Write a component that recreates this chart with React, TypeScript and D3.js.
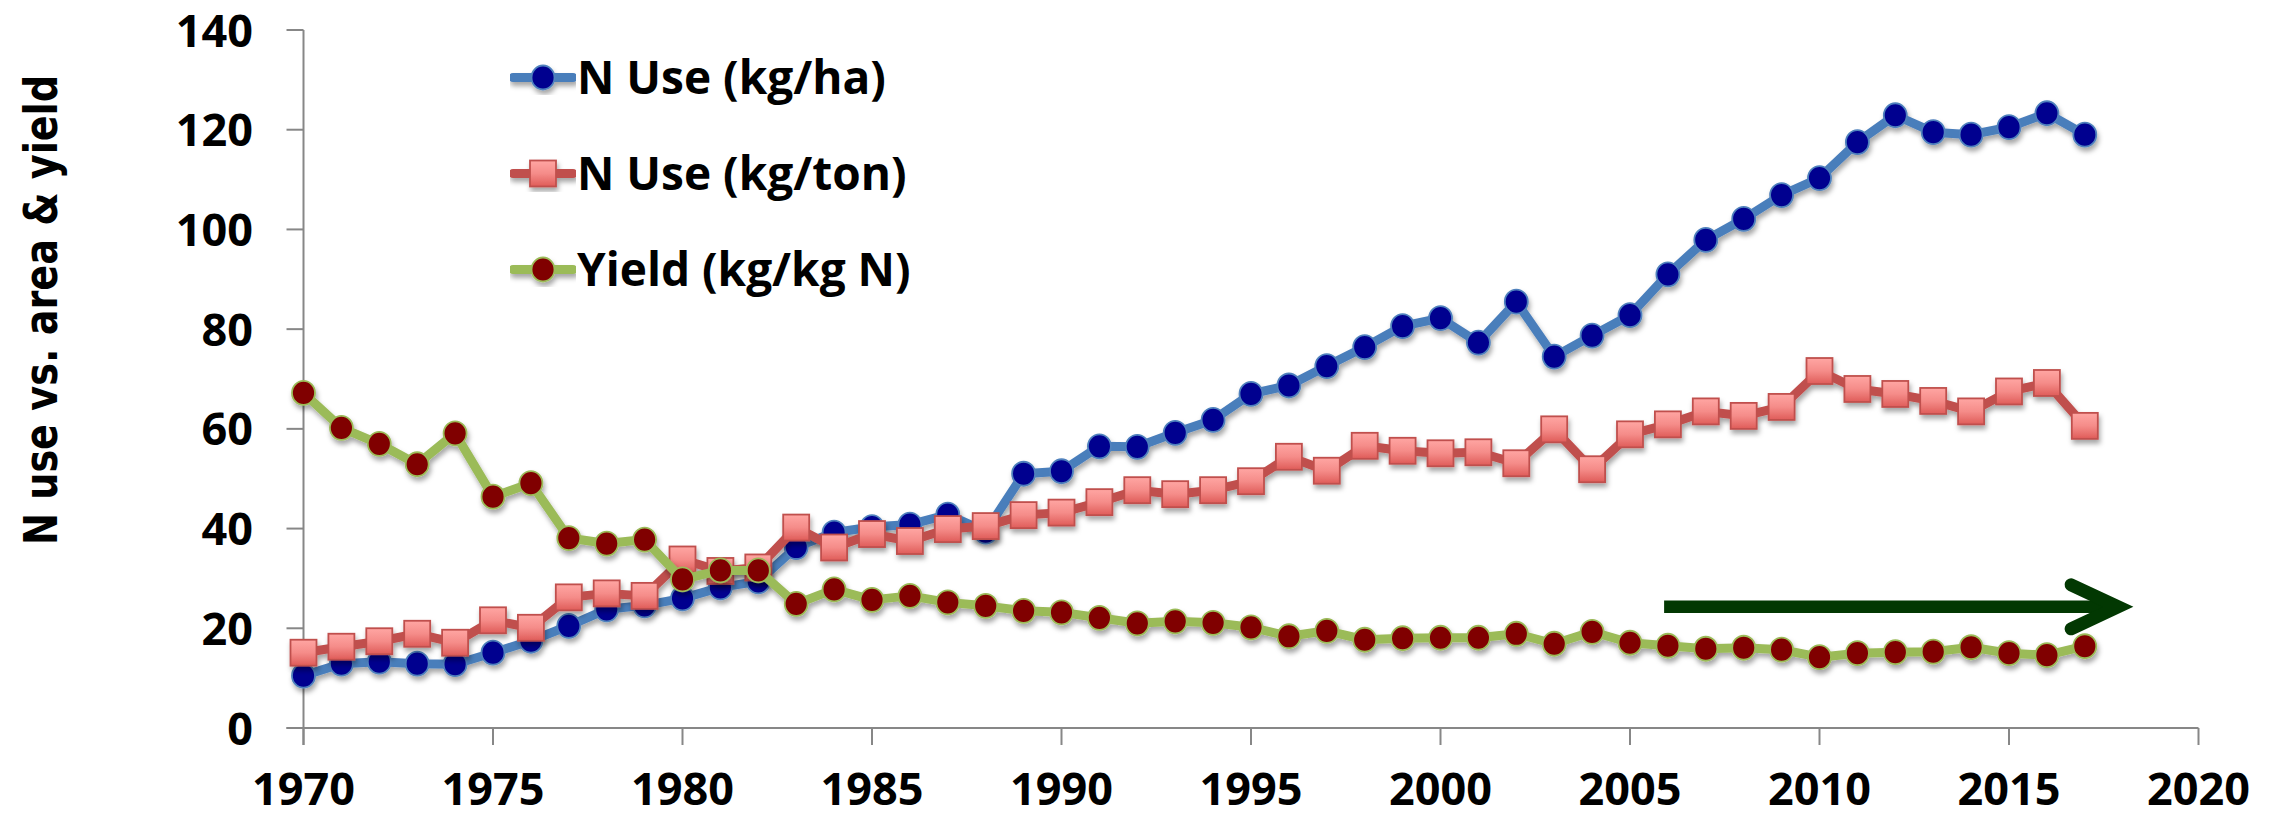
import React from "react";
import * as d3 from "d3";

// Years 1970–2017
const years: number[] = d3.range(1970, 2018);

// N use per hectare (kg/ha)
const nUseHa: number[] = [
  10.5, 12.9, 13.3, 12.9, 12.8, 15.1, 17.5, 20.5, 23.8, 24.6,
  26.0, 28.2, 29.4, 36.3, 39.2, 40.3, 40.8, 42.8, 39.4, 51.0,
  51.5, 56.5, 56.4, 59.2, 61.8, 67.0, 68.7, 72.6, 76.4, 80.6,
  82.2, 77.3, 85.5, 74.5, 78.7, 82.8, 91.0, 97.9, 102.1, 106.9,
  110.3, 117.5, 122.9, 119.5, 119.0, 120.5, 123.3, 119.0,
];

// N use per ton of grain (kg/ton)
const nUseTon: number[] = [
  15.1, 16.3, 17.4, 18.9, 17.1, 21.6, 20.1, 26.2, 27.0, 26.5,
  33.8, 31.5, 32.2, 40.2, 36.2, 38.9, 37.5, 39.9, 40.5, 42.7,
  43.2, 45.3, 47.7, 46.9, 47.7, 49.5, 54.4, 51.6, 56.6, 55.6,
  55.1, 55.3, 53.1, 59.9, 51.9, 58.9, 60.9, 63.5, 62.6, 64.4,
  71.6, 68.0, 67.0, 65.6, 63.5, 67.5, 69.2, 60.6,
];

// Yield per kg of N (kg/kg N)
const yieldPerN: number[] = [
  67.2, 60.2, 57.0, 52.9, 59.1, 46.4, 49.1, 38.1, 37.0, 37.8,
  29.8, 31.6, 31.6, 24.9, 27.8, 25.7, 26.5, 25.2, 24.5, 23.5,
  23.2, 22.1, 21.0, 21.4, 21.1, 20.2, 18.4, 19.5, 17.7, 18.0,
  18.1, 18.1, 18.9, 16.9, 19.3, 17.1, 16.5, 15.9, 16.1, 15.7,
  14.2, 15.0, 15.2, 15.3, 16.2, 15.0, 14.6, 16.4,
];

const xTicks: number[] = [1970, 1975, 1980, 1985, 1990, 1995, 2000, 2005, 2010, 2015, 2020];
const yTicks: number[] = [0, 20, 40, 60, 80, 100, 120, 140];

const seriesNames: string[] = ["N Use (kg/ha)", "N Use (kg/ton)", "Yield (kg/kg N)"];
const yAxisTitle = "N use vs. area & yield";

// Trend arrow (year range and level on the value axis)
const arrowFrom = 2005.9;
const arrowTo = 2018.3;
const arrowLevel = 24.3;

const W = 2274;
const H = 818;

const x = d3.scaleLinear().domain([1970, 2020]).range([303.5, 2198.5]);
const y = d3.scaleLinear().domain([0, 140]).range([728, 30]);

const AXIS = "#878787";
const TICK_FONT = "'Open Sans', 'Liberation Sans', sans-serif";

type Pt = [number, number];
const toPts = (vals: number[]): Pt[] => vals.map((v, i) => [years[i], v]);
const line = d3
  .line<Pt>()
  .x((d) => x(d[0]))
  .y((d) => y(d[1]));

const styles = [
  { line: "#4a7ebb", fill: "#00008f", stroke: "#4f81bd", shape: "circle" },
  { line: "#c0504d", fill: "url(#sqGrad)", stroke: "#c0504d", shape: "square" },
  { line: "#9bbb59", fill: "#800000", stroke: "#9bbb59", shape: "circle" },
];

const R = 11.5;
const SQ = 26;

function Marker({ cx, cy, s }: { cx: number; cy: number; s: (typeof styles)[number] }) {
  if (s.shape === "square") {
    return (
      <rect
        x={cx - SQ / 2}
        y={cy - SQ / 2}
        width={SQ}
        height={SQ}
        fill={s.fill}
        stroke={s.stroke}
        strokeWidth={1.8}
      />
    );
  }
  return <ellipse cx={cx} cy={cy} rx={R} ry={R + 0.5} fill={s.fill} stroke={s.stroke} strokeWidth={1.8} />;
}

export default function App() {
  const data = [nUseHa, nUseTon, yieldPerN];
  const ax = x(arrowFrom);
  const at = x(arrowTo);
  const ay = y(arrowLevel);
  // the mitred point of the chevron reaches ~16px past its vertex
  const vx = at - 16;

  return (
    <svg
      width={W}
      height={H}
      viewBox={`0 0 ${W} ${H}`}
      style={{ position: "absolute", left: 0, top: 0, display: "block", background: "#fff" }}
    >
      <defs>
        <linearGradient id="sqGrad" x1="0" y1="0" x2="0" y2="1">
          <stop offset="0" stopColor="#ffa6a3" />
          <stop offset="0.5" stopColor="#f58c89" />
          <stop offset="1" stopColor="#df5c59" />
        </linearGradient>
        <filter id="shadow" x="-5%" y="-10%" width="110%" height="130%">
          <feDropShadow dx="1.5" dy="4" stdDeviation="2.5" floodColor="#000" floodOpacity="0.35" />
        </filter>
      </defs>

      {/* value axis */}
      <g>
        <line x1={x(1970)} x2={x(1970)} y1={y(140)} y2={y(0) + 17} stroke={AXIS} strokeWidth={2} />
        {yTicks.map((t) => (
          <g key={t}>
            <line x1={x(1970) - 17} x2={x(1970)} y1={y(t)} y2={y(t)} stroke={AXIS} strokeWidth={2} />
            <text
              x={253}
              y={y(t) + 16.5}
              textAnchor="end"
              fontFamily={TICK_FONT}
              fontWeight={700}
              fontSize={45}
              fill="#000"
            >
              {t}
            </text>
          </g>
        ))}
      </g>

      {/* year axis */}
      <g>
        <line x1={x(1970) - 17} x2={x(2020)} y1={y(0)} y2={y(0)} stroke={AXIS} strokeWidth={2} />
        {xTicks.map((t) => (
          <g key={t}>
            <line x1={x(t)} x2={x(t)} y1={y(0)} y2={y(0) + 17} stroke={AXIS} strokeWidth={2} />
            <text
              x={x(t)}
              y={805}
              textAnchor="middle"
              fontFamily={TICK_FONT}
              fontWeight={700}
              fontSize={45}
              fill="#000"
            >
              {t}
            </text>
          </g>
        ))}
      </g>

      {/* axis title */}
      <text
        transform={`translate(57, 310) rotate(-90)`}
        textAnchor="middle"
        fontFamily="'DejaVu Sans', Verdana, sans-serif"
        fontWeight={700}
        fontSize={47}
        textLength={470}
        lengthAdjust="spacingAndGlyphs"
        fill="#000"
      >
        {yAxisTitle}
      </text>

      {/* series */}
      {data.map((vals, si) => {
        const s = styles[si];
        const pts = toPts(vals);
        return (
          <g key={si} filter="url(#shadow)">
            <path d={line(pts) || ""} fill="none" stroke={s.line} strokeWidth={9} strokeLinejoin="round" />
            {pts.map((p, i) => (
              <Marker key={i} cx={x(p[0])} cy={y(p[1])} s={s} />
            ))}
          </g>
        );
      })}

      {/* trend arrow */}
      <g stroke="#023802" fill="none">
        <line x1={ax} x2={vx} y1={ay} y2={ay} strokeWidth={12.5} />
        <path
          d={`M${vx - 47},${ay - 22} L${vx},${ay} L${vx - 47},${ay + 22}`}
          strokeWidth={13}
          strokeLinecap="round"
          strokeLinejoin="miter"
          strokeMiterlimit={10}
        />
      </g>

      {/* legend */}
      {seriesNames.map((name, i) => {
        const s = styles[i];
        const cy = 77.5 + i * 96;
        return (
          <g key={name}>
            <g filter="url(#shadow)">
              <line x1={513} x2={573} y1={cy} y2={cy} stroke={s.line} strokeWidth={9} strokeLinecap="round" />
              <Marker cx={543} cy={cy} s={s} />
            </g>
            <text
              x={577}
              y={cy + 16}
              fontFamily={TICK_FONT}
              fontWeight={700}
              fontSize={46}
              fill="#000"
            >
              {name}
            </text>
          </g>
        );
      })}
    </svg>
  );
}
